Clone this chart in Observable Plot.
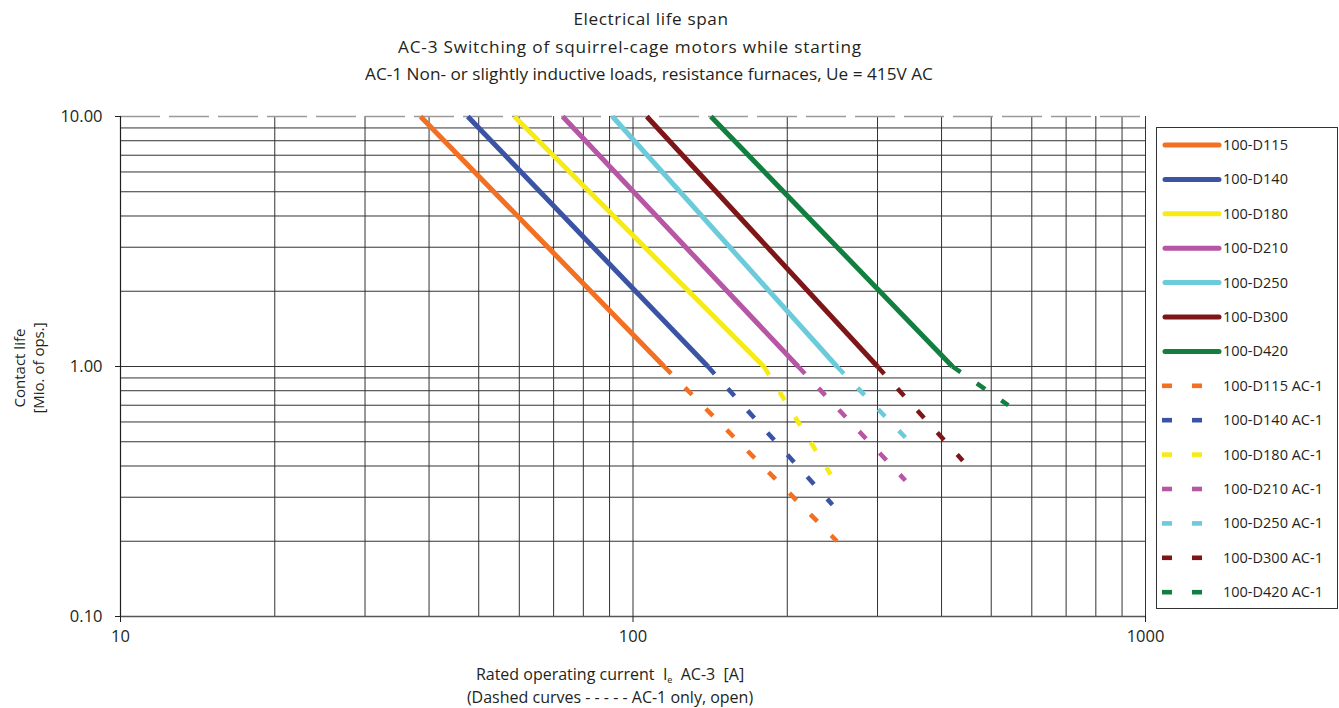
<!DOCTYPE html>
<html><head><meta charset="utf-8">
<script src="https://cdn.jsdelivr.net/npm/d3@7"></script>
<script src="https://cdn.jsdelivr.net/npm/@observablehq/plot@0.6"></script>
<style>
body{margin:0;background:#fff;font-family:"Open Sans",sans-serif;color:#231f20;}
#wrap{position:relative;width:1339px;height:708px;overflow:hidden;}
#wrap svg.plot{position:absolute;left:0;top:0;}
.t{position:absolute;white-space:nowrap;transform:translate(-50%,-50%);line-height:1;}
.title{font-size:17.2px;}
.xl{font-size:16px;}
.yl{font-size:15px;transform:translate(-50%,-50%) rotate(-90deg);}
.sub{position:relative;top:3px;font-size:9px;line-height:1;}
#legend{position:absolute;left:1156px;top:127px;width:182px;height:482px;box-sizing:border-box;border:1px solid #333;background:#fff;}
</style></head><body><div id="wrap"></div>
<script>
// Models and colours
const models = ["100-D115","100-D140","100-D180","100-D210","100-D250","100-D300","100-D420"];
const colors = ["#F36F21","#3A53A4","#F6EC14","#B656A4","#6CCBDA","#7E1517","#107F3F"];
// AC-3 curves: current [A] at 10 Mio ops and at 1 Mio ops
const ac3CurrentAt10 = [38.5, 47.6, 58.7, 72.9, 91.2, 106.4, 141.9];
const ac3CurrentAt1  = [115, 140, 180, 210, 250, 300, 420];
// AC-1 dashed continuations: end current [A] and end life [Mio ops]
const ac1EndCurrent = [250, 245, 243, 340, 340, 440, 540];
const ac1EndLife    = [0.20, 0.28, 0.37, 0.35, 0.52, 0.42, 0.70];
// Axis ticks and grid values
const xTicks = [10, 100, 1000];
const yTicks = [0.1, 1, 10];
const xGrid = [10,20,30,40,50,60,70,80,90,100,200,300,400,500,600,700,800,900,1000];
const yGrid = [0.2,0.3,0.4,0.5,0.6,0.7,0.8,0.9,1,2,3,4,5,6,7,8,9];

const solid = [], dashed = [];
models.forEach((m, i) => {
  solid.push({model: m, x: ac3CurrentAt10[i], y: 10});
  solid.push({model: m, x: ac3CurrentAt1[i], y: 1});
  dashed.push({model: m, x: ac3CurrentAt1[i], y: 1});
  dashed.push({model: m, x: ac1EndCurrent[i], y: ac1EndLife[i]});
});

const plot = Plot.plot({
  width: 1339, height: 708,
  marginLeft: 120, marginRight: 194, marginTop: 116, marginBottom: 92,
  x: {type: "log", domain: [10, 1000]},
  y: {type: "log", domain: [0.1, 10]},
  color: {domain: models, range: colors},
  style: {fontFamily: "Open Sans", fontSize: "16.5px", color: "#231f20", background: "transparent"},
  marks: [
    Plot.ruleX(xGrid, {stroke: "#333", strokeWidth: 1}),
    Plot.ruleY(yGrid, {stroke: "#333", strokeWidth: 1}),
    Plot.ruleY([0.1], {stroke: "#555", strokeWidth: 1.3}),
    Plot.ruleY([10], {stroke: "#9a9a9a", strokeWidth: 1.5, strokeDasharray: "40,9"}),
    Plot.ruleX([10], {stroke: "#231f20", strokeWidth: 1.2}),
    Plot.line(dashed, {x: "x", y: "y", z: "model", stroke: "model", strokeWidth: 4.5, strokeDasharray: "10,19.7", strokeLinecap: "butt"}),
    Plot.line(solid, {x: "x", y: "y", z: "model", stroke: "model", strokeWidth: 5, strokeLinecap: "butt"}),
    Plot.axisX(xTicks, {tickSize: 6, tickPadding: 8, tickFormat: d => String(d), label: null, fontSize: 16.5}),
    Plot.axisY(yTicks, {tickSize: 5, tickPadding: 13, tickFormat: d => d.toFixed(2), label: null, fontSize: 16.5})
  ]
});
plot.classList.add("plot");
const wrap = document.getElementById("wrap");
wrap.appendChild(plot);

function addText(cls, html, x, y, ls) {
  const d = document.createElement("div");
  d.className = "t " + cls;
  d.innerHTML = html;
  d.style.left = x + "px";
  d.style.top = y + "px";
  if (ls) d.style.letterSpacing = ls + "px";
  wrap.appendChild(d);
}
addText("title", "Electrical life span", 651, 19, 0.6);
addText("title", "AC-3 Switching of squirrel-cage motors while starting", 630, 47, 0.8);
addText("title", "AC-1 Non- or slightly inductive loads, resistance furnaces, Ue = 415V AC", 649, 74);
addText("xl", "Rated operating current&nbsp;&nbsp;I<span class=\"sub\">e</span>&nbsp; AC-3&nbsp; [A]", 610, 674);
addText("xl", "(Dashed curves - - - - - AC-1 only, open)", 610, 697);
addText("yl", "Contact life", 19, 368);
addText("yl", "[Mio. of ops.]", 38, 368);

// Legend
const lg = document.createElement("div");
lg.id = "legend";
const ns = "http://www.w3.org/2000/svg";
const svg = document.createElementNS(ns, "svg");
svg.setAttribute("width", 182); svg.setAttribute("height", 482);
svg.style.position = "absolute"; svg.style.left = "-1px"; svg.style.top = "-1px";
const entries = models.map((m, i) => ({label: m, color: colors[i], dash: false}))
  .concat(models.map((m, i) => ({label: m + " AC-1", color: colors[i], dash: true})));
entries.forEach((e, i) => {
  const cy = 18 + i * 34.4;
  if (!e.dash) {
    const l = document.createElementNS(ns, "line");
    l.setAttribute("x1", 9); l.setAttribute("x2", 63);
    l.setAttribute("y1", cy); l.setAttribute("y2", cy);
    l.setAttribute("stroke", e.color); l.setAttribute("stroke-width", 5);
    l.setAttribute("stroke-linecap", "round");
    svg.appendChild(l);
  } else {
    [6, 36].forEach(x0 => {
      const r = document.createElementNS(ns, "rect");
      r.setAttribute("x", x0); r.setAttribute("y", cy - 2.3);
      r.setAttribute("width", 10); r.setAttribute("height", 4.6);
      r.setAttribute("fill", e.color);
      svg.appendChild(r);
    });
  }
  const t = document.createElementNS(ns, "text");
  t.setAttribute("x", 67); t.setAttribute("y", cy);
  t.setAttribute("dy", "0.35em");
  t.setAttribute("font-size", "14.5px");
  t.setAttribute("font-family", "Open Sans");
  t.setAttribute("fill", "#231f20");
  t.textContent = e.label;
  svg.appendChild(t);
});
lg.appendChild(svg);
wrap.appendChild(lg);
</script>
</body></html>
